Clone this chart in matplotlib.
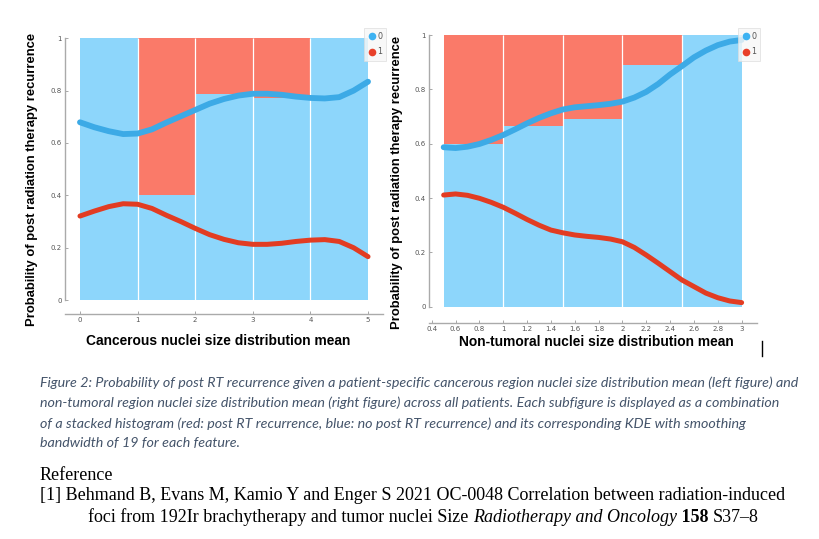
import matplotlib
matplotlib.use("Agg")
import matplotlib.pyplot as plt
from matplotlib.lines import Line2D
from matplotlib.ticker import FuncFormatter

# left: cancerous nuclei size distribution mean
left_edges = [0, 1, 2, 3, 4, 5]
left_p0 = [1.0, 0.40, 0.788, 0.772, 1.0]     # share of class 0 (blue) per bin
left_x = [0, 0.25, 0.5, 0.75, 1.0, 1.25, 1.5, 1.75, 2.0, 2.25, 2.5,
          2.75, 3.0, 3.25, 3.5, 3.75, 4.0, 4.25, 4.5, 4.75, 5.0]
left_kde0 = [0.679, 0.66, 0.645, 0.634, 0.636, 0.652, 0.678, 0.702, 0.726, 0.75, 0.768,
             0.781, 0.788, 0.788, 0.784, 0.777, 0.772, 0.77, 0.775, 0.80, 0.834]
left_kde1 = [0.321, 0.34, 0.357, 0.368, 0.366, 0.35, 0.324, 0.30, 0.274, 0.25, 0.232,
             0.219, 0.213, 0.213, 0.217, 0.224, 0.229, 0.231, 0.224, 0.20, 0.166]
left_xticks = [0, 1, 2, 3, 4, 5]

# right: non-tumoral nuclei size distribution mean
right_edges = [0.5, 1.0, 1.5, 2.0, 2.5, 3.0]
right_p0 = [0.60, 0.666, 0.691, 0.89, 1.0]
right_x = [0.5, 0.6, 0.7, 0.8, 0.9, 1.0, 1.1, 1.2, 1.3, 1.4, 1.5, 1.6, 1.7,
           1.8, 1.9, 2.0, 2.1, 2.2, 2.3, 2.4, 2.5, 2.6, 2.7, 2.8, 2.9, 3.0]
right_kde0 = [0.587, 0.584, 0.589, 0.599, 0.614, 0.632, 0.653, 0.675, 0.695, 0.712, 0.726,
              0.734, 0.738, 0.742, 0.747, 0.755, 0.77, 0.791, 0.82, 0.855, 0.886,
              0.918, 0.943, 0.963, 0.976, 0.982]
right_kde1 = [0.411, 0.415, 0.41, 0.399, 0.384, 0.366, 0.344, 0.321, 0.30, 0.282, 0.272,
              0.264, 0.259, 0.255, 0.249, 0.239, 0.218, 0.19, 0.16, 0.129, 0.098,
              0.074, 0.05, 0.033, 0.021, 0.015]
right_xticks = [0.4, 0.6, 0.8, 1, 1.2, 1.4, 1.6, 1.8, 2, 2.2, 2.4, 2.6, 2.8, 3]

yticks = [0, 0.2, 0.4, 0.6, 0.8, 1]
ylabel = "Probability of post radiation therapy recurrence"

BAR0 = "#8dd6fb"
BAR1 = "#fa7a69"
LINE0 = "#3caae6"
LINE1 = "#e23c22"

W, H = 820, 539
fig = plt.figure(figsize=(W / 100, H / 100), dpi=100)


def px_axes(x0, x1, y_top, y_bot):
    return fig.add_axes([x0 / W, 1 - y_bot / H, (x1 - x0) / W, (y_bot - y_top) / H])


def draw_panel(ax, edges, p0, xs, k0, k1, xticks, xlim, ylim, xlabel, xlab_pos, ylab_pos):
    widths = [b - a for a, b in zip(edges[:-1], edges[1:])]
    top1 = [1 - v for v in p0]
    ax.bar(edges[:-1], p0, width=widths, align="edge", color=BAR0, linewidth=0, zorder=1)
    ax.bar(edges[:-1], top1, width=widths, bottom=p0, align="edge", color=BAR1,
           linewidth=0, zorder=1)
    ax.vlines(edges[1:-1], 0, 1, color="white", linewidth=0.9, zorder=2)
    ax.plot(xs, k0, color=LINE0, linewidth=4.2, solid_capstyle="round", zorder=3)
    ax.plot(xs, k1, color=LINE1, linewidth=3.6, solid_capstyle="round", zorder=3)

    ax.set_xlim(*xlim)
    ax.set_ylim(*ylim)
    ax.set_xticks(xticks)
    ax.set_yticks(yticks)
    fmt = FuncFormatter(lambda v, p: "%g" % v)
    ax.xaxis.set_major_formatter(fmt)
    ax.yaxis.set_major_formatter(fmt)
    ax.tick_params(direction="in", length=2.5, width=0.6, color="#999999",
                   labelsize=5, labelcolor="#555555", pad=2.5)
    for s in ("top", "right"):
        ax.spines[s].set_visible(False)
    ax.spines["left"].set_bounds(0, 1)
    for s in ("left", "bottom"):
        ax.spines[s].set_color("#aaaaaa")
        ax.spines[s].set_linewidth(1.0)
    ax.patch.set_alpha(0)

    ax.set_xlabel(xlabel, fontsize=9.9, fontweight="bold", family="Liberation Sans")
    ax.xaxis.set_label_coords(*xlab_pos)
    ax.set_ylabel(ylabel, fontsize=9.4, fontweight="bold", family="Liberation Sans")
    ax.yaxis.set_label_coords(*ylab_pos)

    handles = [Line2D([], [], marker="o", linestyle="none", markersize=5.5,
                      markerfacecolor="#3db2f2", markeredgecolor="none"),
               Line2D([], [], marker="o", linestyle="none", markersize=5.5,
                      markerfacecolor="#e8402a", markeredgecolor="none")]
    leg = ax.legend(handles, ["0", "1"], loc="upper right", bbox_to_anchor=(1.01, 1.0),
                    fontsize=5.8, frameon=True, fancybox=False, borderaxespad=0,
                    handletextpad=0.1, handlelength=1.0, borderpad=0.5, labelspacing=0.8)
    leg.get_frame().set_edgecolor("#dddddd")
    leg.get_frame().set_facecolor("#f7f7f7")
    leg.get_frame().set_linewidth(0.6)
    for t in leg.get_texts():
        t.set_color("#555555")


ax1 = px_axes(65, 383, 28, 314)
draw_panel(ax1, left_edges, left_p0, left_x, left_kde0, left_kde1, left_xticks,
           (-0.26, 5.26), (-0.053, 1.039), "Cancerous nuclei size distribution mean",
           (0.481, -0.07), (-0.085, 0.469))

ax2 = px_axes(429, 757, 28, 322.7)
draw_panel(ax2, right_edges, right_p0, right_x, right_kde0, right_kde1, right_xticks,
           (0.377, 3.129), (-0.059, 1.026), "Non-tumoral nuclei size distribution mean",
           (0.509, -0.043), (-0.079, 0.477))

# text cursor mark
fig.add_artist(Line2D([762 / W, 762 / W], [1 - 341 / H, 1 - 356 / H], color="black", linewidth=1))

caption = [
    "Figure 2: Probability of post RT recurrence given a patient-specific cancerous region nuclei size distribution mean (left figure) and",
    "non-tumoral region nuclei size distribution mean (right figure) across all patients. Each subfigure is displayed as a combination",
    "of a stacked histogram (red: post RT recurrence, blue: no post RT recurrence) and its corresponding KDE with smoothing",
    "bandwidth of 19 for each feature.",
]
cap_y = [383, 403, 424, 443]
for line, y in zip(caption, cap_y):
    fig.text(40 / W, 1 - y / H, line, fontsize=10.3, style="italic", color="#44546a",
             family="Lato", va="center", ha="left")

serif = "Liberation Serif"
fig.text(40 / W, 1 - 476 / H, "Reference", fontsize=13, family=serif, va="center")
fig.text(40 / W, 1 - 496 / H,
         "[1] Behmand B, Evans M, Kamio Y and Enger S 2021 OC-0048 Correlation between radiation-induced",
         fontsize=13, family=serif, va="center")

pieces = [("foci from 192Ir brachytherapy and tumor nuclei Size ", "normal", "normal"),
          ("Radiotherapy and Oncology", "italic", "normal"),
          (" 158 ", "normal", "bold"),
          ("S37\u20138", "normal", "normal")]
renderer = fig.canvas.get_renderer()
x = 88
for txt, st, wt in pieces:
    t = fig.text(x / W, 1 - 517 / H, txt, fontsize=13, family=serif, style=st,
                 weight=wt, va="center")
    bb = t.get_window_extent(renderer=renderer)
    x += bb.width

fig.savefig("out.png", dpi=100)
